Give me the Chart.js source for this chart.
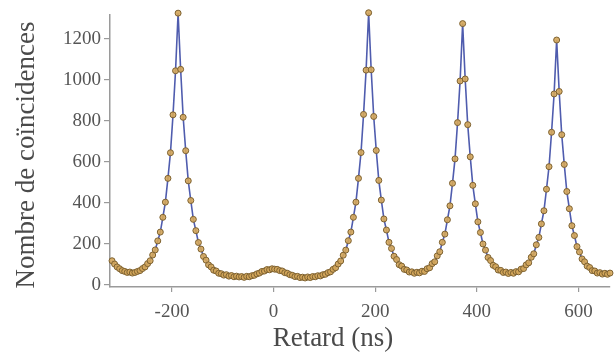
<!DOCTYPE html>
<html>
<head>
<meta charset="utf-8">
<script src="https://cdn.jsdelivr.net/npm/chart.js@4"></script>
<style>
  html, body { margin: 0; padding: 0; background: #fff; }
  canvas { display: block; }
</style>
</head>
<body>
<canvas id="coincidences" width="615" height="356"></canvas>
<script>
// delay bins (ns)
const delays = [
  -318, -313, -308, -303, -298, -293, -288, -283, -278, -273, -268, -263, -258, -253, -248, -243, -238, -233, -228, -223, -218, -213, -208, -203, -198, -193, -188,
  -183, -178, -173, -168, -163, -158, -153, -148, -143, -138, -133, -128, -123, -118, -113, -108, -103, -98, -93, -88, -83, -78, -73, -68, -63, -58, -53, -48, -43, -38, -33, -28, -23, -18, -13, -8, -3,
  2, 7, 12, 17, 22, 27, 32, 37, 42, 47, 52, 57, 62, 67, 72, 77, 82, 87, 92, 97, 102, 107, 112, 117, 122, 127, 132, 137, 142, 147, 152, 157, 162, 167, 172, 177, 182, 187,
  192, 197, 202, 207, 212, 217, 222, 227, 232, 237, 242, 247, 252, 257, 262, 267, 272, 277, 282, 287, 292, 297, 302, 307, 312, 317, 322, 327, 332, 337, 342, 347, 352, 357, 362, 367, 372,
  377, 382, 387, 392, 397, 402, 407, 412, 417, 422, 427, 432, 437, 442, 447, 452, 457, 462, 467, 472, 477, 482, 487, 492, 497, 502, 507, 512, 517, 522, 527, 532, 537, 542, 547, 552, 557,
  562, 567, 572, 577, 582, 587, 592, 597, 602, 607, 612, 617, 622, 627, 632, 637, 642, 647, 652, 657, 662,
]

// coincidence counts, one per delay bin
const counts = [
  118, 102, 88, 79, 70, 66, 61, 63, 58, 61, 66, 70, 80, 88, 104, 118, 146, 171, 215, 258, 330, 404, 520, 645, 830, 1045, 1326,
  1052, 818, 655, 508, 412, 320, 265, 207, 175, 139, 121, 98, 88, 72, 68, 57, 55, 48, 50, 43, 46, 40, 43, 39, 41, 37, 42, 40, 45, 47, 54, 58, 66, 68, 75, 74, 79,
  77, 76, 70, 68, 60, 57, 50, 47, 41, 42, 36, 38, 34, 39, 36, 41, 40, 45, 44, 50, 52, 60, 64, 76, 84, 102, 117, 145, 170, 216, 258, 330, 404, 520, 646, 832, 1048, 1328,
  1050, 822, 656, 510, 414, 322, 268, 208, 178, 140, 124, 99, 92, 76, 73, 63, 64, 57, 62, 59, 67, 66, 79, 84, 104, 113, 142, 162, 208, 248, 318, 386, 496, 615, 792, 995, 1275,
  1005, 782, 625, 486, 396, 308, 256, 200, 170, 134, 119, 96, 89, 73, 71, 61, 63, 56, 61, 57, 65, 64, 77, 80, 98, 108, 135, 152, 196, 232, 298, 362, 467, 577, 745, 932, 1195,
  944, 733, 588, 456, 372, 289, 241, 187, 161, 127, 113, 92, 85, 70, 68, 58, 60, 53, 57, 52, 58,
]

const xTicks = [-200, 0, 200, 400, 600]
const yTicks = [0, 200, 400, 600, 800, 1000, 1200]
const xTitle = 'Retard (ns)'
const yTitle = 'Nombre de coïncidences'

const serif = 'Liberation Serif'

// axis titles placed by hand, the x one sits left of the plot centre
const axisTitles = {
  id: 'axisTitles',
  afterDraw(chart) {
    const { ctx } = chart
    ctx.save()
    ctx.fillStyle = '#4a4a4a'
    ctx.font = `27px "${serif}"`
    ctx.textAlign = 'center'
    ctx.textBaseline = 'middle'
    ctx.fillText(xTitle, 333, 339)
    ctx.translate(27, 155)
    ctx.rotate(-Math.PI / 2)
    ctx.fillText(yTitle, 0, 0)
    ctx.restore()
  },
}

const ctx = document.getElementById('coincidences')

new Chart(ctx, {
  type: 'line',
  data: {
    datasets: [
      {
        data: delays.map((d, i) => ({ x: d, y: counts[i] })),
        borderColor: '#4f5cae',
        borderWidth: 1.6,
        tension: 0,
        clip: 6,
        pointRadius: 3,
        pointBackgroundColor: 'rgba(212, 166, 90, 0.9)',
        pointBorderColor: '#7d6130',
        pointBorderWidth: 1,
      },
    ],
  },
  options: {
    responsive: false,
    animation: false,
    devicePixelRatio: 1,
    layout: { padding: { left: 0, top: 13, right: 5, bottom: 0 } },
    plugins: {
      legend: { display: false },
      tooltip: { enabled: false },
    },
    scales: {
      x: {
        type: 'linear',
        min: -322,
        max: 662,
        afterBuildTicks: (scale) => {
          scale.ticks = xTicks.map((v) => ({ value: v }))
        },
        afterFit: (scale) => {
          scale.height = 69
        },
        grid: { drawOnChartArea: false, tickLength: 5, color: '#9a9a9a', lineWidth: 1.2 },
        border: { color: '#9a9a9a', width: 1.5 },
        ticks: {
          color: '#555',
          font: { family: serif, size: 19 },
          padding: 9,
          maxRotation: 0,
          autoSkip: false,
          callback: (v) => String(v),
        },
      },
      y: {
        min: -10,
        max: 1320,
        afterBuildTicks: (scale) => {
          scale.ticks = yTicks.map((v) => ({ value: v }))
        },
        afterFit: (scale) => {
          scale.width = 110
        },
        grid: { drawOnChartArea: false, tickLength: 6, color: '#9a9a9a', lineWidth: 1.2 },
        border: { color: '#9a9a9a', width: 1.5 },
        ticks: {
          color: '#555',
          font: { family: serif, size: 19 },
          padding: 3,
          autoSkip: false,
          callback: (v) => String(v),
        },
      },
    },
  },
  plugins: [axisTitles],
})
</script>
</body>
</html>
